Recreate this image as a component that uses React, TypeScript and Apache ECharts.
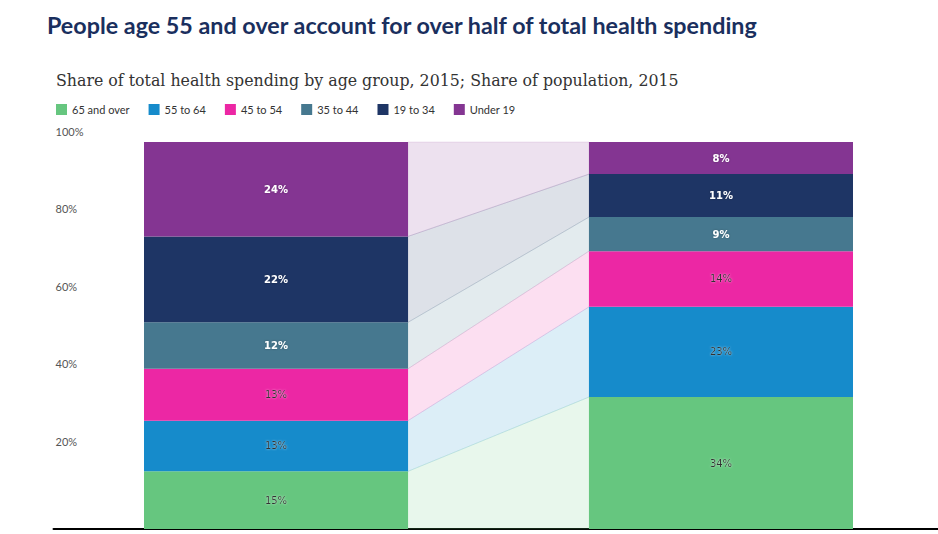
import React, { useEffect, useRef } from "react";
import * as echarts from "echarts";

const TITLE = "People age 55 and over account for over half of total health spending";
const SUBTITLE = "Share of total health spending by age group, 2015; Share of population, 2015";
const CATEGORIES = ["Share of population", "Share of total health spending"];
const GROUPS = ["65 and over", "55 to 64", "45 to 54", "35 to 44", "19 to 34", "Under 19"];
const COLORS = ["#66c67f", "#168bcb", "#ec27a4", "#46788f", "#1e3565", "#843592"];
const LEFT_VALUES = [14.9, 13.1, 13.4, 12.0, 22.2, 24.4];
const RIGHT_VALUES = [34.1, 23.3, 14.4, 8.8, 11.1, 8.3];
const Y_TICKS = [0, 20, 40, 60, 80, 100];

const BAR_W = 264;

export default function App() {
  const ref = useRef<HTMLDivElement>(null);
  useEffect(() => {
    if (!ref.current) return;
    const chart = echarts.init(ref.current, undefined, { renderer: "svg" });
    const cum = (arr: number[], i: number) => arr.slice(0, i).reduce((a, b) => a + b, 0);

    const barSeries = GROUPS.map((g, i) => ({
      name: g,
      type: "bar",
      stack: "total",
      barWidth: BAR_W,
      z: 3,
      itemStyle: { color: COLORS[i] },
      data: [LEFT_VALUES[i], RIGHT_VALUES[i]],
      label: {
        show: true,
        position: "inside",
        formatter: (p: any) => Math.round(p.value) + "%",
        fontFamily: "DejaVu Sans",
        fontSize: 10,
        fontWeight: i >= 3 ? "bold" : "normal",
        color: i >= 3 ? "#ffffff" : "#333333",
        textShadowColor: i >= 3 ? "rgba(0,0,0,0.3)" : "rgba(255,255,255,0.6)",
        textShadowBlur: 2,
      },
      emphasis: { disabled: true },
    }));

    const bandSeries = {
      type: "custom",
      z: 1,
      silent: true,
      encode: { x: 0, y: 1 },
      data: GROUPS.map(() => [0, 0]),
      renderItem: (params: any, api: any) => {
        const i = params.dataIndex;
        const lb = cum(LEFT_VALUES, i);
        const lt = lb + LEFT_VALUES[i];
        const rb = cum(RIGHT_VALUES, i);
        const rt = rb + RIGHT_VALUES[i];
        const a = api.coord([0, lb]);
        const b = api.coord([0, lt]);
        const c = api.coord([1, rt]);
        const d = api.coord([1, rb]);
        const h = BAR_W / 2;
        return {
          type: "polygon",
          shape: {
            points: [
              [a[0] + h, a[1]],
              [b[0] + h, b[1]],
              [c[0] - h, c[1]],
              [d[0] - h, d[1]],
            ],
          },
          style: {
            fill: echarts.color.modifyAlpha(COLORS[i], 0.15),
            stroke: echarts.color.modifyAlpha(COLORS[i], 0.12),
            lineWidth: 1,
          },
        };
      },
    };

    chart.setOption({
      animation: false,
      title: [
        {
          text: TITLE,
          left: 47,
          top: 13,
          padding: 0,
          textStyle: {
            fontFamily: "Lato",
            fontSize: 23.3,
            fontWeight: "bold",
            color: "#1a2f5e",
          },
        },
        {
          text: SUBTITLE,
          left: 56,
          top: 72,
          padding: 0,
          textStyle: {
            fontFamily: "DejaVu Serif",
            fontSize: 15.8,
            fontWeight: "normal",
            color: "#333333",
          },
        },
      ],
      legend: {
        left: 56,
        top: 104,
        padding: 0,
        itemWidth: 11,
        itemHeight: 11,
        itemGap: 19,
        icon: "rect",
        data: GROUPS,
        textStyle: { fontFamily: "Lato", fontSize: 11, color: "#333333" },
        selectedMode: false,
      },
      grid: {
        left: 53.5,
        top: 142,
        width: 890,
        height: 387,
        containLabel: false,
        outerBoundsMode: "none",
      },
      xAxis: {
        type: "category",
        data: CATEGORIES,
        axisLine: { show: true, lineStyle: { color: "#000000", width: 2 } },
        axisTick: { show: false },
        axisLabel: { show: false },
        splitLine: { show: false },
      },
      yAxis: {
        type: "value",
        min: Y_TICKS[0],
        max: Y_TICKS[Y_TICKS.length - 1],
        interval: 20,
        axisLine: { show: false },
        axisTick: { show: false },
        splitLine: { show: false },
        axisLabel: {
          inside: true,
          margin: 2,
          align: "left",
          verticalAlign: "bottom",
          padding: [0, 0, 5, 0],
          showMinLabel: false,
          formatter: (v: number) => (v === 0 ? "" : v + "%"),
          fontFamily: "Lato",
          fontSize: 11,
          color: "#555555",
        },
      },
      series: [bandSeries, ...barSeries],
    } as any);
    return () => chart.dispose();
  }, []);
  return <div ref={ref} style={{ width: 938, height: 534, position: "absolute", left: 0, top: 0 }} />;
}
